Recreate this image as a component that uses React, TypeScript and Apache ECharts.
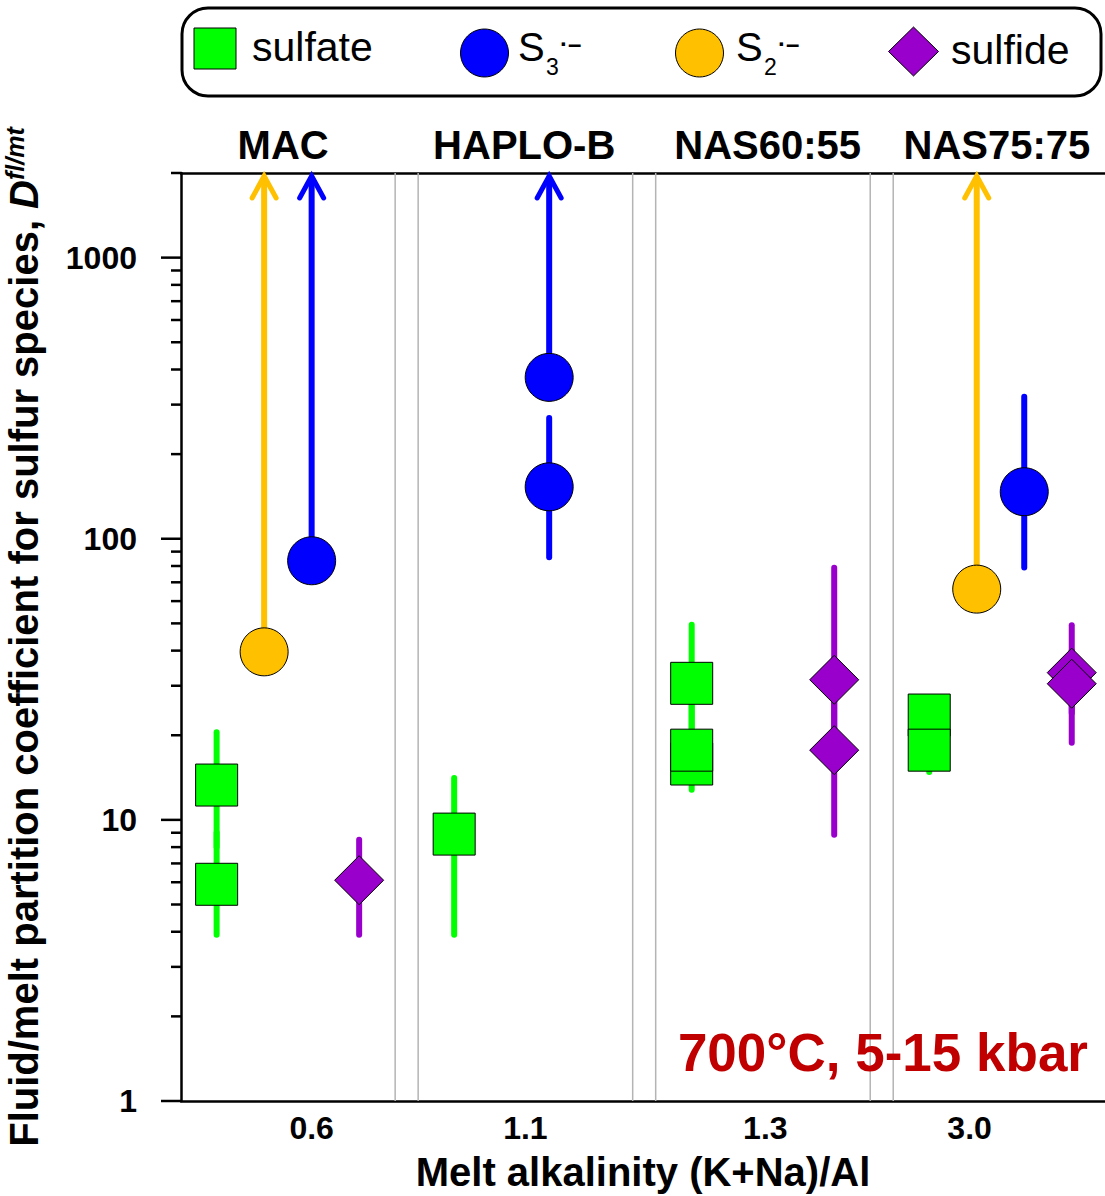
import React, { useEffect, useRef } from 'react';
import * as echarts from 'echarts';

const FONT = '"Liberation Sans", Arial, Helvetica, sans-serif';

// Composition groups along the x axis (one unit wide each)
const groupNames = ['MAC', 'HAPLO-B', 'NAS60:55', 'NAS75:75'];
const groupTitleAt = [0.48, 1.495, 2.52, 3.485];
const alkalinityTicks = ['0.6', '1.1', '1.3', '3.0'];
const alkalinityTickAt = [0.6, 1.5, 2.51, 3.37];
const groupBoundaries = [1, 2, 3];

const yMajorTicks = [1, 10, 100, 1000];
const yMinorMantissas = [2, 3, 4, 5, 6, 7, 8, 9];

// Sulfate: group index, D(fl/mt), error range
const sulfateGroup = [0, 0, 1, 2, 2, 2, 3, 3];
const sulfateD = [13.3, 5.9, 8.9, 30.6, 15.8, 17.7, 23.6, 17.7];
const sulfateLow = [8.0, 3.9, 3.9, 20.0, 12.8, 13.5, 17.0, 14.8];
const sulfateHigh = [20.5, 9.0, 14.1, 49.4, 20.0, 26.0, 27.0, 24.0];

// S3 radical anion; "minOnly" values are lower limits
const s3Group = [0, 1, 1, 3];
const s3D = [83.5, 375, 153, 147];
const s3Low = [null, null, 86, 79];
const s3High = [null, null, 269, 320];
const s3MinOnly = [true, true, false, false];

// S2 radical anion (lower limits only)
const s2Group = [0, 3];
const s2D = [39.6, 66.2];
const s2MinOnly = [true, true];

// Sulfide
const sulfideGroup = [0, 2, 2, 3, 3];
const sulfideD = [6.1, 31.5, 17.7, 33.4, 30.5];
const sulfideLow = [3.9, 20.0, 8.85, 24.0, 18.8];
const sulfideHigh = [8.5, 78.8, 28.0, 49.2, 40.0];

const X_MIN = 0.05;
const X_MAX = 3.94;
const Y_MIN = 1;
const Y_MAX = 2000;

const SLOT = { sulfate: 0.2, s2: 0.4, s3: 0.6, sulfide: 0.8 };
const COLORS = {
  sulfate: '#00ff00',
  s3: '#0000ff',
  s2: '#ffc000',
  sulfide: '#9900cc',
};

function errorBars(color: string, groups: number[], low: any[], high: any[], slot: number) {
  const data: number[][] = [];
  groups.forEach((g, i) => {
    if (low[i] != null && high[i] != null) data.push([g + slot, low[i], high[i]]);
  });
  return {
    type: 'custom',
    z: 2,
    silent: true,
    data,
    renderItem: (params: any, api: any) => {
      const x = api.value(0);
      const a = api.coord([x, api.value(1)]);
      const b = api.coord([x, api.value(2)]);
      return {
        type: 'line',
        shape: { x1: a[0], y1: a[1], x2: b[0], y2: b[1] },
        style: { stroke: color, lineWidth: 6, lineCap: 'round' },
      };
    },
  };
}

function lowerLimitArrows(color: string, groups: number[], values: number[], minOnly: boolean[], slot: number) {
  const data: number[][] = [];
  groups.forEach((g, i) => {
    if (minOnly[i]) data.push([g + slot, values[i]]);
  });
  return {
    type: 'custom',
    z: 2,
    silent: true,
    data,
    renderItem: (params: any, api: any) => {
      const x = api.value(0);
      const p = api.coord([x, api.value(1)]);
      const tip = api.coord([x, Y_MAX]);
      return {
        type: 'group',
        children: [
          {
            type: 'line',
            shape: { x1: p[0], y1: p[1], x2: tip[0], y2: tip[1] + 4 },
            style: { stroke: color, lineWidth: 6 },
          },
          {
            type: 'polyline',
            shape: {
              points: [
                [tip[0] - 12, tip[1] + 25],
                [tip[0], tip[1] + 3],
                [tip[0] + 12, tip[1] + 25],
              ],
            },
            style: { stroke: color, lineWidth: 5, fill: null, lineCap: 'round', lineJoin: 'miter' },
          },
        ],
      };
    },
  };
}

function markers(name: string, symbol: string, size: number, color: string, groups: number[], values: number[], slot: number) {
  return {
    type: 'scatter',
    name,
    symbol,
    symbolSize: size,
    z: 4,
    silent: true,
    itemStyle: { color, borderColor: '#000', borderWidth: 1, opacity: 1 },
    data: groups.map((g, i) => [g + slot, values[i]]),
  };
}

function pickLabel(v: number, at: number[], labels: string[]) {
  for (let i = 0; i < at.length; i++) {
    if (Math.abs(at[i] - v) < 1e-6) return labels[i];
  }
  return '';
}

export default function App() {
  const ref = useRef<HTMLDivElement>(null);

  useEffect(() => {
    if (!ref.current) return;
    const chart = echarts.init(ref.current, undefined, { renderer: 'svg' });

    // y-axis tick marks (decades and intermediate log ticks)
    const yTickData: number[][] = [];
    yMajorTicks.forEach((m) => {
      yTickData.push([X_MIN, m, 1]);
      yMinorMantissas.forEach((k) => {
        const v = m * k;
        if (v <= Y_MAX) yTickData.push([X_MIN, v, 0]);
      });
    });

    const axisLabelText = { color: '#000', fontFamily: FONT, fontWeight: 'bold' as const };

    const option: any = {
      animation: false,
      backgroundColor: '#ffffff',
      grid: {
        left: 181,
        right: 0,
        top: 173,
        bottom: 95,
        containLabel: false,
        outerBoundsMode: 'none',
      },
      xAxis: [
        {
          type: 'value',
          position: 'bottom',
          min: X_MIN,
          max: X_MAX,
          axisLine: { show: true, onZero: false, lineStyle: { color: '#000', width: 2.5 } },
          axisTick: { show: false },
          splitLine: { show: false },
          axisLabel: {
            ...axisLabelText,
            customValues: alkalinityTickAt,
            fontSize: 32,
            margin: 11,
            formatter: (v: number) => pickLabel(v, alkalinityTickAt, alkalinityTicks),
          },
          name: 'Melt alkalinity (K+Na)/Al',
          nameLocation: 'middle',
          nameGap: 51,
          nameTextStyle: { ...axisLabelText, fontSize: 40 },
        },
        {
          type: 'value',
          position: 'top',
          min: X_MIN,
          max: X_MAX,
          axisLine: { show: true, onZero: false, lineStyle: { color: '#000', width: 2.5 } },
          axisTick: { show: false },
          splitLine: { show: false },
          axisLabel: {
            ...axisLabelText,
            customValues: groupTitleAt,
            fontSize: 40,
            margin: 8,
            formatter: (v: number) => pickLabel(v, groupTitleAt, groupNames),
          },
        },
      ],
      yAxis: {
        type: 'log',
        logBase: 10,
        min: Y_MIN,
        max: Y_MAX,
        axisLine: { show: true, lineStyle: { color: '#000', width: 2.5 } },
        axisTick: { show: false },
        splitLine: { show: false },
        minorTick: { show: false },
        axisLabel: {
          ...axisLabelText,
          fontSize: 32,
          margin: 44,
          formatter: (v: number) => {
            const r = Math.round(v);
            return yMajorTicks.indexOf(r) >= 0 ? String(r) : '';
          },
        },
        name: '{t|Fluid/melt partition coefficient for sulfur species, }{d|D}{s|fl/mt}',
        nameLocation: 'middle',
        nameGap: 135,
        nameRotate: 90,
        nameTextStyle: {
          rich: {
            t: { ...axisLabelText, fontSize: 40, lineHeight: 44 },
            d: { ...axisLabelText, fontSize: 40, fontStyle: 'italic', lineHeight: 44 },
            s: { ...axisLabelText, fontSize: 25, fontStyle: 'italic', verticalAlign: 'top', lineHeight: 44 },
          },
        },
      },
      series: [
        // group separators (double thin lines)
        {
          type: 'custom',
          z: 1,
          silent: true,
          data: groupBoundaries.map((b) => [b, Y_MIN]),
          renderItem: (params: any, api: any) => {
            const b = api.value(0);
            const l = api.coord([b - 0.0484, Y_MIN]);
            const r = api.coord([b + 0.0484, Y_MIN]);
            const t = api.coord([b, Y_MAX]);
            const style = { stroke: '#b4b4b4', lineWidth: 1.5 };
            return {
              type: 'group',
              children: [
                { type: 'line', shape: { x1: l[0], y1: l[1], x2: l[0], y2: t[1] }, style },
                { type: 'line', shape: { x1: r[0], y1: r[1], x2: r[0], y2: t[1] }, style },
              ],
            };
          },
        },
        // y-axis ticks
        {
          type: 'custom',
          z: 5,
          silent: true,
          clip: false,
          data: yTickData,
          renderItem: (params: any, api: any) => {
            const p = api.coord([api.value(0), api.value(1)]);
            const len = api.value(2) ? 20 : 10;
            return {
              type: 'line',
              shape: { x1: p[0] - len, y1: p[1], x2: p[0], y2: p[1] },
              style: { stroke: '#000', lineWidth: 2.5 },
            };
          },
        },
        errorBars(COLORS.sulfate, sulfateGroup, sulfateLow, sulfateHigh, SLOT.sulfate),
        errorBars(COLORS.s3, s3Group, s3Low, s3High, SLOT.s3),
        errorBars(COLORS.sulfide, sulfideGroup, sulfideLow, sulfideHigh, SLOT.sulfide),
        lowerLimitArrows(COLORS.s2, s2Group, s2D, s2MinOnly, SLOT.s2),
        lowerLimitArrows(COLORS.s3, s3Group, s3D, s3MinOnly, SLOT.s3),
        markers('sulfate', 'rect', 42, COLORS.sulfate, sulfateGroup, sulfateD, SLOT.sulfate),
        markers('S3', 'circle', 48, COLORS.s3, s3Group, s3D, SLOT.s3),
        markers('S2', 'circle', 48, COLORS.s2, s2Group, s2D, SLOT.s2),
        markers('sulfide', 'diamond', 49, COLORS.sulfide, sulfideGroup, sulfideD, SLOT.sulfide),
      ],
      graphic: [
        // legend box
        {
          type: 'rect',
          z: 10,
          shape: { x: 182, y: 8, width: 919, height: 88, r: 26 },
          style: { fill: '#fff', stroke: '#000', lineWidth: 3 },
        },
        {
          type: 'rect',
          z: 11,
          shape: { x: 194, y: 28, width: 42, height: 41 },
          style: { fill: COLORS.sulfate, stroke: '#000', lineWidth: 1 },
        },
        {
          type: 'text',
          z: 11,
          x: 252,
          y: 47,
          style: { text: 'sulfate', font: `41px ${FONT}`, fill: '#000', verticalAlign: 'middle' },
        },
        {
          type: 'circle',
          z: 11,
          shape: { cx: 484.5, cy: 53, r: 24 },
          style: { fill: COLORS.s3, stroke: '#000', lineWidth: 1 },
        },
        { type: 'text', z: 11, x: 518, y: 47, style: { text: 'S', font: `40px ${FONT}`, fill: '#000', verticalAlign: 'middle' } },
        { type: 'text', z: 11, x: 546, y: 67, style: { text: '3', font: `23px ${FONT}`, fill: '#000', verticalAlign: 'middle' } },
        { type: 'text', z: 11, x: 560, y: 43, style: { text: '·–', font: `bold 24px ${FONT}`, fill: '#000', verticalAlign: 'middle' } },
        {
          type: 'circle',
          z: 11,
          shape: { cx: 699.5, cy: 53, r: 24 },
          style: { fill: COLORS.s2, stroke: '#000', lineWidth: 1 },
        },
        { type: 'text', z: 11, x: 736, y: 47, style: { text: 'S', font: `40px ${FONT}`, fill: '#000', verticalAlign: 'middle' } },
        { type: 'text', z: 11, x: 764, y: 67, style: { text: '2', font: `23px ${FONT}`, fill: '#000', verticalAlign: 'middle' } },
        { type: 'text', z: 11, x: 778, y: 43, style: { text: '·–', font: `bold 24px ${FONT}`, fill: '#000', verticalAlign: 'middle' } },
        {
          type: 'polygon',
          z: 11,
          shape: { points: [[913.5, 27], [938.5, 51.5], [913.5, 76], [888.5, 51.5]] },
          style: { fill: COLORS.sulfide, stroke: '#000', lineWidth: 1 },
        },
        {
          type: 'text',
          z: 11,
          x: 951,
          y: 50,
          style: { text: 'sulfide', font: `41px ${FONT}`, fill: '#000', verticalAlign: 'middle' },
        },
        // experimental conditions
        {
          type: 'text',
          z: 11,
          x: 1088,
          y: 1052,
          style: {
            text: '700°C, 5-15 kbar',
            font: `bold 53px ${FONT}`,
            fill: '#c00000',
            align: 'right',
            verticalAlign: 'middle',
          },
        },
      ],
    };

    chart.setOption(option);
    return () => chart.dispose();
  }, []);

  return (
    <div
      ref={ref}
      style={{ position: 'fixed', left: 0, top: 0, width: 1105, height: 1196, background: '#fff' }}
    />
  );
}
